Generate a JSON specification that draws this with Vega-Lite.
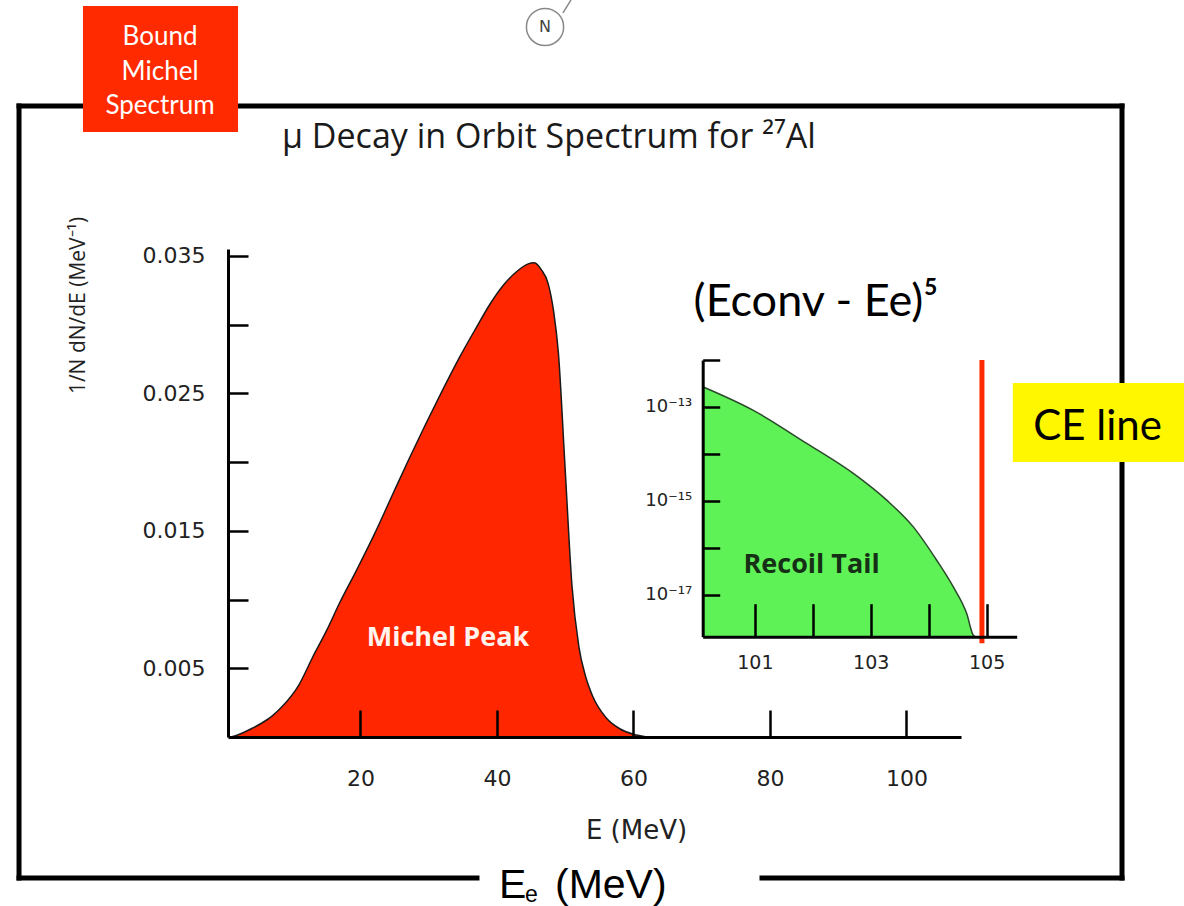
{
  "$schema": "https://vega.github.io/schema/vega-lite/v6.json",
  "width": 733,
  "height": 488,
  "autosize": {"type": "none"},
  "padding": {"left": 228, "top": 249, "right": 223, "bottom": 169},
  "background": "white",
  "config": {"view": {"stroke": null}, "font": "Open Sans"},
  "datasets": {
    "michel": [
      {"E": 1.0, "v": 0},
      {"E": 2, "v": 0.00015},
      {"E": 4, "v": 0.0006},
      {"E": 5.5, "v": 0.001},
      {"E": 7, "v": 0.0015},
      {"E": 8.5, "v": 0.0022},
      {"E": 11, "v": 0.0038},
      {"E": 13, "v": 0.0058},
      {"E": 15, "v": 0.0077},
      {"E": 17, "v": 0.0098},
      {"E": 19.5, "v": 0.0122},
      {"E": 22, "v": 0.0147},
      {"E": 24.5, "v": 0.0174},
      {"E": 27, "v": 0.0201},
      {"E": 29.5, "v": 0.0227},
      {"E": 32, "v": 0.0252},
      {"E": 34.5, "v": 0.0276},
      {"E": 37, "v": 0.0298},
      {"E": 39, "v": 0.0315},
      {"E": 41, "v": 0.0329},
      {"E": 43, "v": 0.0339},
      {"E": 44.5, "v": 0.0344},
      {"E": 45.5, "v": 0.0345},
      {"E": 46.5, "v": 0.034},
      {"E": 47.5, "v": 0.033},
      {"E": 48.3, "v": 0.031},
      {"E": 49, "v": 0.028},
      {"E": 50, "v": 0.0195},
      {"E": 51, "v": 0.011},
      {"E": 52, "v": 0.0066},
      {"E": 53, "v": 0.0044},
      {"E": 54, "v": 0.003},
      {"E": 56, "v": 0.0014},
      {"E": 58, "v": 0.0006},
      {"E": 60, "v": 0.0002},
      {"E": 62, "v": 0}
    ],
    "recoil": [
      {"E": 100.1, "v": 2.7e-13},
      {"E": 100.974, "v": 8.47e-14},
      {"E": 101.895, "v": 1.675e-14},
      {"E": 102.7, "v": 3.84e-15},
      {"E": 103.276, "v": 1.035e-15},
      {"E": 103.735, "v": 2.79e-16},
      {"E": 104.139, "v": 5.44e-17},
      {"E": 104.426, "v": 1.466e-17},
      {"E": 104.657, "v": 3.97e-18},
      {"E": 104.771, "v": 1.37e-18},
      {"E": 104.8, "v": 1.28e-18}
    ],
    "frame": [
      {"E": -30.02, "E2": 131.59, "v": 0.045905, "v2": 0.045905},
      {"E": -30.02, "E2": -30.02, "v": 0.045905, "v2": -0.010258},
      {"E": 131.59, "E2": 131.59, "v": 0.045905, "v2": -0.010258},
      {"E": -30.02, "E2": 37.08, "v": -0.010258, "v2": -0.010258},
      {"E": 78.84, "E2": 131.59, "v": -0.010258, "v2": -0.010258}
    ],
    "redbox": [{"E": -20.65, "E2": 2.07, "v": 0.05318, "v2": 0.044013}],
    "yellowbox": [{"E": 115.6, "E2": 140.7, "v": 0.02575, "v2": 0.02}],
    "boundtext": [
      {"t": "Bound", "E": -9.36, "v": 0.050924},
      {"t": "Michel", "E": -9.36, "v": 0.048378},
      {"t": "Spectrum", "E": -9.36, "v": 0.045904}
    ],
    "title": [{"t": "μ Decay in Orbit Spectrum for ²⁷Al", "E": 47.63, "v": 0.043576}],
    "peaklabel": [{"t": "Michel Peak", "E": 32.83, "v": 0.0072}],
    "econv": [{"t": "(Econv - Ee)⁵", "E": 86.75, "v": 0.03165}],
    "celabel": [{"t": "CE line", "E": 128.0, "v": 0.02255}],
    "eebig": [
      {"t": "E", "E": 40.31, "v": -0.011713},
      {"t": "(MeV)", "E": 48.51, "v": -0.011713}
    ],
    "eesub": [{"t": "e", "E": 44.1, "v": -0.012004}],
    "ncircle": [{"t": "N", "E": 47.05, "v": 0.05165}],
    "bond": [{"E": 49.68, "E2": 50.86, "v": 0.05267, "v2": 0.05362}],
    "ce": [{"E": 104.92, "v": 1e-12, "v2": 9.3e-19}],
    "recoillabel": [{"t": "Recoil Tail", "E": 101.98, "v": 4.4e-17}]
  },
  "layer": [
    {
      "encoding": {
        "x": {
          "field": "E",
          "type": "quantitative",
          "scale": {"domain": [0.6, 108], "nice": false, "zero": false},
          "axis": {
            "values": [20, 40, 60, 80, 100],
            "grid": false,
            "zindex": 1,
            "domainColor": "black",
            "domainWidth": 3,
            "tickColor": "black",
            "tickWidth": 2.5,
            "tickSize": -27,
            "labelPadding": 58,
            "labelFont": "DejaVu Sans",
            "labelFontSize": 22,
            "labelColor": "#222",
            "labelOverlap": false,
            "labelFlush": false,
            "title": "E (MeV)",
            "titleFont": "DejaVu Sans",
            "titleFontSize": 26,
            "titleFontWeight": "normal",
            "titleColor": "#222",
            "titleX": 408,
            "titleY": 93,
            "titleBaseline": "middle",
            "titleAlign": "center"
          }
        },
        "y": {
          "field": "v",
          "type": "quantitative",
          "scale": {"domain": [0, 0.0355], "nice": false, "zero": false},
          "axis": {
            "values": [0.005, 0.01, 0.015, 0.02, 0.025, 0.03, 0.035],
            "grid": false,
            "zindex": 1,
            "domainColor": "black",
            "domainWidth": 3,
            "tickColor": "black",
            "tickWidth": 2.5,
            "tickSize": -20,
            "labelPadding": 43,
            "labelFont": "DejaVu Sans",
            "labelFontSize": 22,
            "labelColor": "#222",
            "labelOverlap": false,
            "labelFlush": false,
            "labelExpr": "(round(datum.value * 1000) % 10 == 5) ? format(datum.value, '.3f') : ''",
            "title": "1/N dN/dE (MeV⁻¹)",
            "titleFont": "Open Sans",
            "titleFontSize": 21,
            "titleFontWeight": "normal",
            "titleColor": "#222",
            "titleAngle": -90,
            "titleX": -150,
            "titleY": 56,
            "titleAlign": "center",
            "titleBaseline": "middle"
          }
        }
      },
      "layer": [
        {
          "data": {"name": "frame"},
          "mark": {"type": "rule", "color": "black", "strokeWidth": 5, "strokeCap": "square"},
          "encoding": {"x2": {"field": "E2"}, "y2": {"field": "v2"}}
        },
        {
          "data": {"name": "redbox"},
          "mark": {"type": "rect", "color": "#ff2a00", "opacity": 1},
          "encoding": {"x2": {"field": "E2"}, "y2": {"field": "v2"}}
        },
        {
          "data": {"name": "yellowbox"},
          "mark": {"type": "rect", "color": "#fff700", "opacity": 1},
          "encoding": {"x2": {"field": "E2"}, "y2": {"field": "v2"}}
        },
        {
          "data": {"name": "michel"},
          "mark": {"type": "area", "color": "#ff2600", "opacity": 1, "fillOpacity": 1, "interpolate": "monotone", "line": {"color": "#1a1a1a", "strokeWidth": 1.5, "interpolate": "monotone"}},
          "encoding": {}
        },
        {
          "data": {"name": "boundtext"},
          "mark": {"type": "text", "color": "white", "fontSize": 26, "font": "Lato", "align": "center", "baseline": "middle"},
          "encoding": {"text": {"field": "t"}}
        },
        {
          "data": {"name": "title"},
          "mark": {"type": "text", "color": "#1a1a1a", "fontSize": 34, "font": "Open Sans", "align": "center", "baseline": "middle"},
          "encoding": {"text": {"field": "t"}}
        },
        {
          "data": {"name": "peaklabel"},
          "mark": {"type": "text", "color": "#fff3ee", "fontSize": 27, "font": "Open Sans", "fontWeight": "bold", "align": "center", "baseline": "middle"},
          "encoding": {"text": {"field": "t"}}
        },
        {
          "data": {"name": "econv"},
          "mark": {"type": "text", "color": "black", "fontSize": 45, "font": "Lato", "align": "center", "baseline": "middle"},
          "encoding": {"text": {"field": "t"}}
        },
        {
          "data": {"name": "celabel"},
          "mark": {"type": "text", "color": "black", "fontSize": 42, "font": "Lato", "align": "center", "baseline": "middle"},
          "encoding": {"text": {"field": "t"}}
        },
        {
          "data": {"name": "eebig"},
          "mark": {"type": "text", "color": "black", "fontSize": 41, "font": "Liberation Sans", "align": "left", "baseline": "alphabetic"},
          "encoding": {"text": {"field": "t"}}
        },
        {
          "data": {"name": "eesub"},
          "mark": {"type": "text", "color": "black", "fontSize": 23, "font": "Liberation Sans", "align": "left", "baseline": "alphabetic"},
          "encoding": {"text": {"field": "t"}}
        },
        {
          "data": {"name": "bond"},
          "mark": {"type": "rule", "color": "#888", "strokeWidth": 1.5},
          "encoding": {"x2": {"field": "E2"}, "y2": {"field": "v2"}}
        },
        {
          "data": {"name": "ncircle"},
          "mark": {"type": "point", "shape": "circle", "size": 1385, "filled": false, "fill": "white", "fillOpacity": 1, "stroke": "#888", "strokeWidth": 1.5, "opacity": 1},
          "encoding": {}
        },
        {
          "data": {"name": "ncircle"},
          "mark": {"type": "text", "color": "#444", "fontSize": 16, "font": "DejaVu Sans", "align": "center", "baseline": "middle"},
          "encoding": {"text": {"field": "t"}}
        }
      ]
    },
    {
      "encoding": {
        "x": {
          "field": "E",
          "type": "quantitative",
          "scale": {"domain": [100.1, 105.52], "range": [474.7, 788.7], "nice": false, "zero": false},
          "axis": {
            "orient": "bottom",
            "offset": -100.3,
            "values": [101, 102, 103, 104, 105],
            "grid": false,
            "zindex": 1,
            "domainColor": "black",
            "domainWidth": 3,
            "tickColor": "black",
            "tickWidth": 2.5,
            "tickSize": -33,
            "labelPadding": 50,
            "labelFont": "DejaVu Sans",
            "labelFontSize": 19,
            "labelColor": "#222",
            "labelOverlap": false,
            "labelFlush": false,
            "labelExpr": "datum.value % 2 == 1 ? datum.label : ''",
            "title": null
          }
        },
        "y": {
          "field": "v",
          "type": "quantitative",
          "scale": {"type": "log", "domain": [1.28e-18, 1e-12], "range": [387.7, 111], "nice": false},
          "axis": {
            "orient": "left",
            "offset": -474.7,
            "values": [1e-17, 1e-16, 1e-15, 1e-14, 1e-13, 1e-12],
            "grid": false,
            "zindex": 1,
            "domainColor": "black",
            "domainWidth": 3,
            "tickColor": "black",
            "tickWidth": 2.5,
            "tickSize": -17,
            "labelPadding": 28,
            "labelFont": "DejaVu Sans",
            "labelFontSize": 18,
            "labelColor": "#222",
            "labelOverlap": false,
            "labelFlush": false,
            "labelExpr": "(datum.value > 5e-18 && datum.value < 2e-17) ? '10⁻¹⁷' : (datum.value > 5e-16 && datum.value < 2e-15) ? '10⁻¹⁵' : (datum.value > 5e-14 && datum.value < 2e-13) ? '10⁻¹³' : ''",
            "title": null
          }
        }
      },
      "layer": [
        {
          "data": {"name": "recoil"},
          "mark": {"type": "area", "color": "#5ef257", "opacity": 1, "fillOpacity": 1, "interpolate": "monotone", "line": {"color": "#2a4a2a", "strokeWidth": 1.5, "interpolate": "monotone"}},
          "encoding": {"y2": {"datum": 1.28e-18}}
        },
        {
          "data": {"name": "recoillabel"},
          "mark": {"type": "text", "color": "#163016", "fontSize": 27, "font": "Open Sans", "fontWeight": "bold", "align": "center", "baseline": "middle"},
          "encoding": {"text": {"field": "t"}}
        },
        {
          "data": {"name": "ce"},
          "mark": {"type": "rule", "color": "#ff2a00", "strokeWidth": 5},
          "encoding": {"y2": {"field": "v2"}}
        }
      ]
    }
  ],
  "resolve": {
    "scale": {"x": "independent", "y": "independent"},
    "axis": {"x": "independent", "y": "independent"}
  }
}
